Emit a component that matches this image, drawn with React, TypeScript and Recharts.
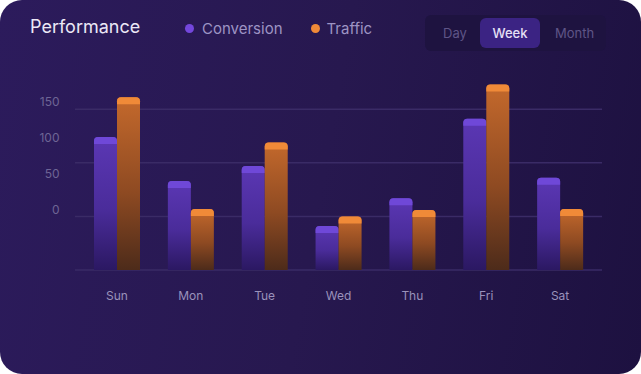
import React from 'react';
import { BarChart, Bar, XAxis, YAxis, CartesianGrid, Legend } from 'recharts';

const days = ['Sun', 'Mon', 'Tue', 'Wed', 'Thu', 'Fri', 'Sat'];
const conversion = [124, 83, 97, 41, 67, 141, 86];
const traffic = [161, 57, 119, 50, 56, 173, 57];
const valueTicks = [0, 50, 100, 150];
const ranges = ['Day', 'Week', 'Month'];
const activeRange = 'Week';

const data = days.map((d, i) => ({ day: d, conversion: conversion[i], traffic: traffic[i] }));

const FONT = 'Inter, "Noto Sans", sans-serif';

const makeShape = (cap: string, grad: string) => (props: any) => {
  const { x, y, width, height } = props;
  if (!height || height <= 0) return null;
  const r = 4;
  const capH = Math.min(7, height);
  const path = `M${x},${y + height} L${x},${y + r} Q${x},${y} ${x + r},${y} L${x + width - r},${y} Q${x + width},${y} ${x + width},${y + r} L${x + width},${y + height} Z`;
  const capPath = `M${x},${y + capH} L${x},${y + r} Q${x},${y} ${x + r},${y} L${x + width - r},${y} Q${x + width},${y} ${x + width},${y + r} L${x + width},${y + capH} Z`;
  return (
    <g>
      <path d={path} fill={`url(#${grad})`} />
      <path d={capPath} fill={cap} />
    </g>
  );
};

const LegendContent = () => (
  <div style={{ display: 'flex', alignItems: 'center', fontFamily: FONT, fontSize: 15, color: '#9d94c4', whiteSpace: 'nowrap' }}>
    <span style={{ width: 9, height: 9, borderRadius: '50%', background: '#7447dc', display: 'inline-block', marginRight: 8 }} />
    <span style={{ marginRight: 28 }}>Conversion</span>
    <span style={{ width: 9, height: 9, borderRadius: '50%', background: '#f08a38', display: 'inline-block', marginRight: 7 }} />
    <span>Traffic</span>
  </div>
);

export default function App() {
  return (
    <div
      style={{
        position: 'absolute',
        left: 0,
        top: 0,
        width: 641,
        height: 374,
        borderRadius: 22,
        overflow: 'hidden',
        background: 'linear-gradient(100deg, #2c1b5c 0%, #27184f 50%, #1d1140 100%)',
        fontFamily: FONT,
      }}
    >
      <div style={{ position: 'absolute', left: 30, top: 16, fontSize: 18, color: '#ece8f6', letterSpacing: 0 }}>Performance</div>
      <div
        style={{
          position: 'absolute',
          left: 425,
          top: 15,
          width: 181,
          height: 36,
          borderRadius: 6,
          background: '#1e1340',
        }}
      >
        {ranges.map((r, i) => {
          const lefts = [5, 55, 115];
          const widths = [50, 60, 69];
          const active = r === activeRange;
          return (
            <div
              key={r}
              style={{
                position: 'absolute',
                left: lefts[i],
                top: active ? 3 : 0,
                width: widths[i],
                height: active ? 30 : 36,
                borderRadius: 6,
                background: active ? '#3b2383' : 'transparent',
                color: active ? '#e6e0f6' : '#5f5587',
                fontSize: 13,
                fontWeight: active ? 500 : 400,
                display: 'flex',
                alignItems: 'center',
                justifyContent: 'center',
              }}
            >
              {r}
            </div>
          );
        })}
      </div>
      <BarChart
        width={641}
        height={374}
        data={data}
        margin={{ top: 77, right: 39, bottom: 74, left: 0 }}
        barSize={23}
        barGap={0}
        style={{ position: 'absolute', left: 0, top: 0 }}
      >
        <defs>
          <linearGradient id="gConv" x1="0" y1="0" x2="0" y2="1">
            <stop offset="0%" stopColor="#5b37b4" />
            <stop offset="55%" stopColor="#4a2c9a" />
            <stop offset="100%" stopColor="#2b1862" />
          </linearGradient>
          <linearGradient id="gTraf" x1="0" y1="0" x2="0" y2="1">
            <stop offset="0%" stopColor="#c4692c" />
            <stop offset="55%" stopColor="#8e4a22" />
            <stop offset="100%" stopColor="#4d2b1a" />
          </linearGradient>
        </defs>
        <CartesianGrid yAxisId="v" vertical={false} syncWithTicks stroke="#3a2b66" strokeWidth={1.5} />
        <XAxis
          dataKey="day"
          axisLine={false}
          tickLine={false}
          tickMargin={15}
          height={30}
          padding={{ left: 5, right: 5 }}
          tick={{ fill: '#9a92bb', fontSize: 12, fontFamily: FONT }}
        />
        <YAxis yAxisId="v" domain={[0, 180]} ticks={valueTicks} hide />
        <YAxis
          yAxisId="lab"
          domain={[-84.6, 184.4]}
          ticks={valueTicks}
          allowDataOverflow
          width={75}
          axisLine={false}
          tickLine={false}
          tickMargin={9.5}
          tick={{ fill: '#6e6595', fontSize: 12, fontFamily: FONT }}
        />
        <Legend
          layout="horizontal"
          verticalAlign="middle"
          align="center"
          content={<LegendContent />}
          wrapperStyle={{ top: 19, left: 185, width: 'auto', height: 'auto' }}
        />
        <Bar yAxisId="v" dataKey="conversion" name="Conversion" fill="#7447dc" shape={makeShape('#6f48d8', 'gConv')} isAnimationActive={false} />
        <Bar yAxisId="v" dataKey="traffic" name="Traffic" fill="#f08a38" shape={makeShape('#f08a38', 'gTraf')} isAnimationActive={false} />
      </BarChart>
    </div>
  );
}
